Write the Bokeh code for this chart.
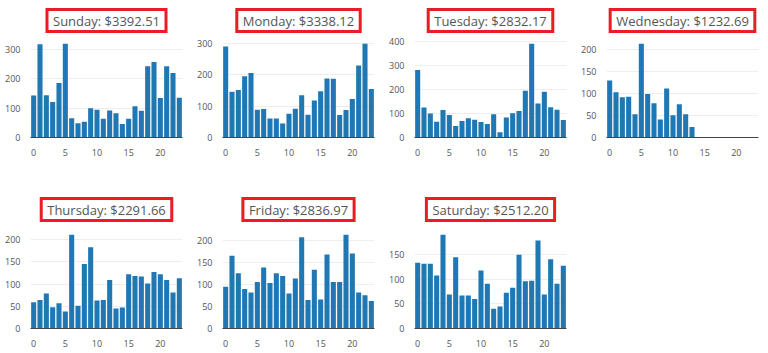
from bokeh.plotting import figure
from bokeh.layouts import gridplot
from bokeh.models import Range1d, SingleIntervalTicker, FixedTicker
from bokeh.embed import file_html
from bokeh.resources import INLINE

days = ["Sunday", "Monday", "Tuesday", "Wednesday", "Thursday", "Friday", "Saturday"]
totals = ["3392.51", "3338.12", "2832.17", "1232.69", "2291.66", "2836.97", "2512.20"]
hours = list(range(24))
x_ticks = [0, 5, 10, 15, 20]
y_tick_steps = [100, 100, 100, 50, 50, 50, 50]

sunday = [143, 318, 144, 121, 186, 320, 66, 49, 54, 100, 95, 64,
          92, 83, 46, 64, 107, 91, 243, 258, 135, 243, 220, 136]
monday = [291, 146, 152, 196, 206, 89, 91, 61, 61, 45, 76, 92,
          135, 73, 118, 148, 189, 188, 72, 88, 123, 230, 300, 155]
tuesday = [282, 125, 100, 66, 115, 94, 48, 69, 80, 74, 65, 56,
           97, 22, 84, 101, 111, 195, 392, 142, 191, 126, 116, 73]
wednesday = [130, 103, 92, 93, 53, 214, 99, 78, 41, 112, 51, 76,
             53, 24, 0, 0, 0, 0, 0, 0, 0, 0, 0, 0]
thursday = [59, 64, 79, 48, 57, 38, 211, 51, 145, 183, 63, 64,
            109, 45, 47, 122, 118, 117, 101, 127, 122, 109, 81, 113]
friday = [95, 166, 126, 90, 82, 106, 139, 104, 126, 120, 80, 114,
          208, 65, 134, 66, 169, 106, 106, 214, 171, 82, 76, 63]
saturday = [134, 132, 132, 108, 191, 69, 145, 67, 67, 60, 118, 91,
            40, 45, 73, 83, 150, 96, 97, 179, 69, 141, 91, 128]

series = [sunday, monday, tuesday, wednesday, thursday, friday, saturday]


def make(i):
    vals = series[i]
    row = 0 if i < 4 else 1
    top_b = 39 if row == 0 else 50
    bot_b = 43 if row == 0 else 25
    p = figure(frame_width=152, frame_height=98,
               min_border_left=30, min_border_right=10,
               min_border_top=top_b, min_border_bottom=bot_b,
               x_range=Range1d(-0.5, 23.5),
               y_range=Range1d(0, max(vals) / 0.957),
               output_backend="svg", toolbar_location=None,
               title=f"{days[i]}: ${totals[i]}")
    p.vbar(x=hours, top=vals, width=0.8, fill_color="#1f77b4", line_color=None)
    p.outline_line_color = None
    p.xgrid.grid_line_color = None
    p.ygrid.grid_line_color = "#eeeeee"
    p.xaxis.ticker = FixedTicker(ticks=x_ticks)
    p.yaxis.ticker = SingleIntervalTicker(interval=y_tick_steps[i])
    for ax in (p.xaxis, p.yaxis):
        ax.major_tick_line_color = None
        ax.minor_tick_line_color = None
        ax.major_label_text_font = "Open Sans"
        ax.major_label_text_font_size = "9px"
        ax.major_label_text_color = "#555555"
    p.yaxis.axis_line_color = None
    p.xaxis.axis_line_color = "#444444"
    p.xaxis.major_label_standoff = 5
    p.yaxis.major_label_standoff = 4
    t = p.title
    t.align = "center"
    t.text_font = "Open Sans"
    t.text_font_size = "13px"
    t.text_font_style = "normal"
    t.text_color = "#555555"
    t.border_line_color = "#ec1c24"
    t.border_line_width = 3
    t.border_line_join = "miter"
    t.border_radius = 0
    t.padding = (6, 2)
    t.vertical_align = "top"
    t.standoff = 12 if row == 0 else 16
    return p


figs = [make(i) for i in range(7)]
grid = gridplot([[figs[0], figs[1], figs[2], figs[3]],
                 [figs[4], figs[5], figs[6], None]],
                toolbar_location=None)

open("out.html", "w").write(file_html(grid, INLINE))
